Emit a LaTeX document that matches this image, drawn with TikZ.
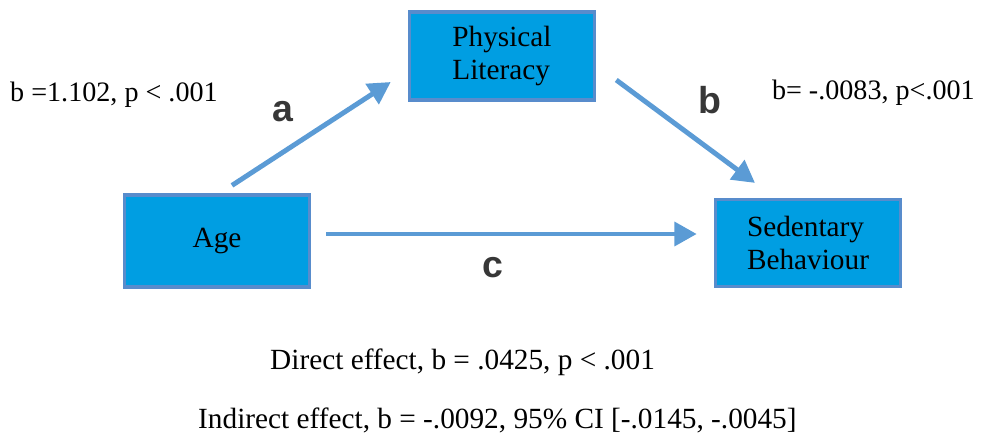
\documentclass[tikz,border=0pt]{standalone}
\usepackage{fontspec}
\setmainfont{Liberation Serif}
\newfontfamily\labelfont{Liberation Sans}
\usetikzlibrary{arrows.meta,calc}
\definecolor{boxblue}{RGB}{0,158,226}
\definecolor{edgeblue}{RGB}{88,140,204}
\definecolor{arrowblue}{RGB}{91,155,213}
\definecolor{lettergray}{RGB}{55,55,55}
\newcommand{\txt}{\fontsize{25}{28}\selectfont}

\begin{document}
\begin{tikzpicture}[x=0.03cm,y=-0.03cm,
    var/.style={draw=edgeblue,line width=3pt,fill=boxblue,minimum width=5.55cm,
      minimum height=2.65cm,align=left,font=\txt},
    effect/.style={arrowblue,line width=4.2pt,-{Triangle[length=19pt,width=20pt]}},
    pathname/.style={font=\labelfont\bfseries\fontsize{32}{34}\selectfont,text=lettergray},
    stat/.style={font=\txt,inner sep=0pt}]
       \useasboundingbox (0,0) rectangle (983,440);
       \node[var] (pl) at (502,56) {Physical\\Literacy};
       \node[var,minimum height=2.75cm] (age) at (217,241) {Age};
       \node[var,minimum height=2.6cm] (sb) at (808,243) {Sedentary\\Behaviour};
       \draw[effect] ($(age.north)+(15,-8)$) -- ($(pl.west)+(-17,26)$);
       \draw[effect] ($(pl.east)+(20,24)$) -- ($(sb.north)+(-53,-15)$);
       \draw[effect] ($(age.east)+(15,-7)$) -- ($(sb.west)+(-17,-9)$);
       \node[pathname] (a) at (283,112) {a};
       \node[pathname] (b) at (710,100) {b};
       \node[pathname] (c) at (493,268) {c};
       \node[stat,anchor=west,font=\fontsize{24}{26}\selectfont] (astat) at (10,95) {b =1.102, p < .001};
       \node[stat,anchor=east,font=\fontsize{24}{26}\selectfont] (bstat) at (975,93) {b= -.0083, p<.001};
       \node[stat,anchor=west] (direct) at (270,362) {Direct effect, b = .0425, p < .001};
       \node[stat,anchor=west] (indirect) at (198,420) {Indirect effect, b = -.0092, 95\% CI [-.0145, -.0045]};
      \end{tikzpicture}
\end{document}
